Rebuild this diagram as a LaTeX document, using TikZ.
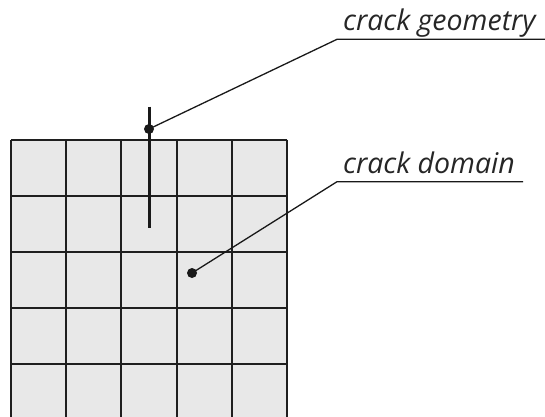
\documentclass[tikz,border=0pt]{standalone}
\usepackage{fontspec}
\setmainfont{Open Sans}
\begin{document}
\begin{tikzpicture}[x=1pt,y=-1pt,
  gridline/.style={draw=black!88,line width=2pt},
  leader/.style={draw=black!90,line width=1.3pt},
  crackline/.style={draw=black!90,line width=3pt},
  dotmark/.style={circle,fill=black!90,inner sep=0pt,minimum size=10pt},
  lbl/.style={font=\itshape\fontsize{28.5}{32}\selectfont,text=black!85,inner sep=0pt,anchor=base west}]
\useasboundingbox (0,0) rectangle (545,416);
\begin{scope}
\clip (0,0) rectangle (545,416);
\fill[black!9] (11,139.5) rectangle (287,419.5);
\foreach \i in {0,...,5} {
  \draw[gridline] (11+55.2*\i,139.5) -- (11+55.2*\i,419.5);
  \draw[gridline] (11,139.5+56*\i) -- (287,139.5+56*\i);
}
\end{scope}
\coordinate (ctop) at (149,106.5);
\coordinate (cbot) at (149,227.5);
\draw[crackline] (ctop) -- (cbot);
\node[dotmark] (dot1) at (149,129) {};
\node[dotmark] (dot2) at (192,273) {};
\coordinate (elbow1) at (337,39.3);
\coordinate (end1) at (545,39.3);
\coordinate (elbow2) at (337,181.7);
\coordinate (end2) at (523,181.7);
\draw[leader] (dot1.center) -- (elbow1) -- (end1);
\draw[leader] (dot2.center) -- (elbow2) -- (end2);
\node[lbl] (geo) at (343,30.5) {crack geometry};
\node[lbl] (dom) at (343,173.3) {crack domain};
\end{tikzpicture}
\end{document}
